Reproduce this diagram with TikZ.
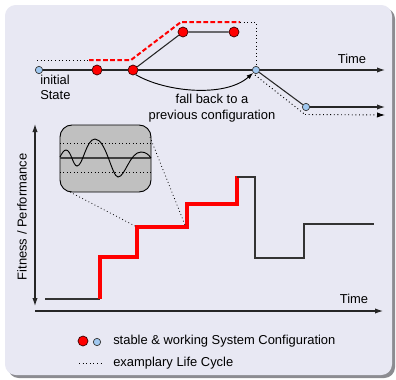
\documentclass[tikz,border=0pt]{standalone}
\usepackage{fontspec}
\setmainfont{Liberation Sans}
\usetikzlibrary{arrows.meta}
\definecolor{panel}{RGB}{232,232,243}
\definecolor{shadowc}{RGB}{140,140,145}
\definecolor{redc}{RGB}{255,0,0}
\definecolor{bluec}{RGB}{160,200,240}
\definecolor{insetc}{RGB}{192,192,192}
\tikzset{
  redstate/.style={circle,draw=black!80!red,line width=0.5pt,fill=redc,minimum size=7.5pt,inner sep=0pt},
  bluestate/.style={circle,draw=black!80,line width=0.5pt,fill=bluec,minimum size=5.5pt,inner sep=0pt},
  axis/.style={line width=0.8pt,black!85},
  tip/.style={-{Latex[length=6pt,width=4pt]}},
  life/.style={dotted,line width=0.7pt},
  reddash/.style={redc,line width=1.5pt,dash pattern=on 3.5pt off 1.8pt},
  lbl/.style={font=\fontsize{9.7}{11.5}\selectfont,inner sep=0pt},
  steprd/.style={redc,line width=3pt},
  stepbk/.style={black!80,line width=0.8pt}
}
\begin{document}
\begin{tikzpicture}[x=0.75pt,y=-0.75pt]
\useasboundingbox (0,0) rectangle (396,379);
% panel
\fill[shadowc,rounded corners=8pt] (8,8) rectangle (395,378);
\fill[panel,rounded corners=8pt] (5,5) rectangle (392,375);

% ---------- top part ----------
\node[bluestate] (s0) at (39,70) {};
\node[redstate] (c2) at (97,70) {};
\node[redstate] (c3) at (133,70) {};
\node[redstate] (c4) at (183,32) {};
\node[redstate] (c5) at (234,32) {};
\node[bluestate] (b1) at (256,70) {};
\node[bluestate] (b2) at (306,107) {};
\coordinate (tEnd) at (385,70);
\coordinate (b2End) at (385,107);
\coordinate (dEnd) at (385,115);

\draw[axis] (s0) -- (c2) -- (c3) -- (b1);
\draw[axis,tip] (b1) -- (tEnd);
\draw[axis] (c3) -- (c4) -- (c5);
\draw[axis] (b1) -- (b2);
\draw[axis,tip] (b2) -- (b2End);

% life cycle
\coordinate (l0) at (37,60);
\coordinate (l1) at (89,60);
\coordinate (l2) at (131,60);
\coordinate (l3) at (181,22);
\coordinate (l4) at (240,22);
\coordinate (l5) at (256,22);
\coordinate (l6) at (255,75);
\coordinate (l7) at (305,114.5);
\draw[life] (l0) -- (l1);
\draw[reddash] (l1) -- (l2) -- (l3) -- (l4);
\draw[life] (l4) -- (l5) -- (b1.north);
\draw[life] (l6) -- (l7);
\draw[life,tip] (l7) -- (dEnd);

\node[lbl,anchor=south] (time1) at (352,64) {Time};
\node[lbl,align=left,anchor=north west] (init) at (40,75) {initial\\State};
\draw[line width=0.7pt,-{Latex[length=5pt,width=3.5pt]}] (c3.-60) .. controls (165,92) and (225,98) .. (b1.-135);
\node[lbl,align=center,font=\fontsize{9.7}{12}\selectfont] (fb) at (212,108) {fall back to a\\previous configuration};

% ---------- bottom part ----------
\coordinate (yTop) at (35,124);
\coordinate (yBot) at (35,306);
\coordinate (xL) at (35,311);
\coordinate (xR) at (383,311);
\draw[axis,{Latex[length=6pt,width=4pt]}-{Latex[length=6pt,width=4pt]}] (yTop) -- (yBot);
\draw[axis,tip] (xL) -- (xR);
\node[lbl,anchor=south] (time2) at (354,304) {Time};
\node[lbl,rotate=90] (fit) at (22,217) {Fitness / Performance};

% step curve
\draw[stepbk] (45,299) -- (100,299);
\draw[steprd] (100,299) -- (100,257) -- (137,257) -- (137,227) -- (187,227) -- (187,204) -- (237,204) -- (237,176);
\draw[stepbk] (237,177) -- (255,177) -- (255,258) -- (304,258) -- (304,224) -- (374,224);

% inset
\coordinate (iBL) at (60,192);
\coordinate (iTR) at (151,125);
\draw[line width=0.7pt,fill=insetc,rounded corners=9pt] (iBL) rectangle (iTR);
\draw[black!75,line width=1pt] (60,158) -- (151,158);
\draw[life,line width=0.6pt] (60,143) -- (151,143);
\draw[life,line width=0.6pt] (60,172) -- (151,172);
\draw[line width=0.7pt] (60,157) .. controls (62,153) and (64,150) .. (66,150)
  .. controls (71,150) and (73,166) .. (77,166)
  .. controls (83,166) and (86,139) .. (95,139)
  .. controls (106,139) and (112,177) .. (118,177)
  .. controls (125,177) and (130,152) .. (141,152)
  .. controls (146,152) and (149,155) .. (151,158);
\draw[life,line width=0.6pt] (70,192) -- (137,227);
\draw[life,line width=0.6pt] (150,137) -- (185,225);

% legend
\node[redstate] (lr) at (83,341) {};
\node[bluestate] (lb) at (97,342) {};
\node[lbl,anchor=west] (lt1) at (113,341) {stable \& working System Configuration};
\coordinate (ld0) at (79,363);
\coordinate (ld1) at (101,363);
\draw[life] (ld0) -- (ld1);
\node[lbl,anchor=west] (lt2) at (113,363) {examplary Life Cycle};
\end{tikzpicture}
\end{document}
